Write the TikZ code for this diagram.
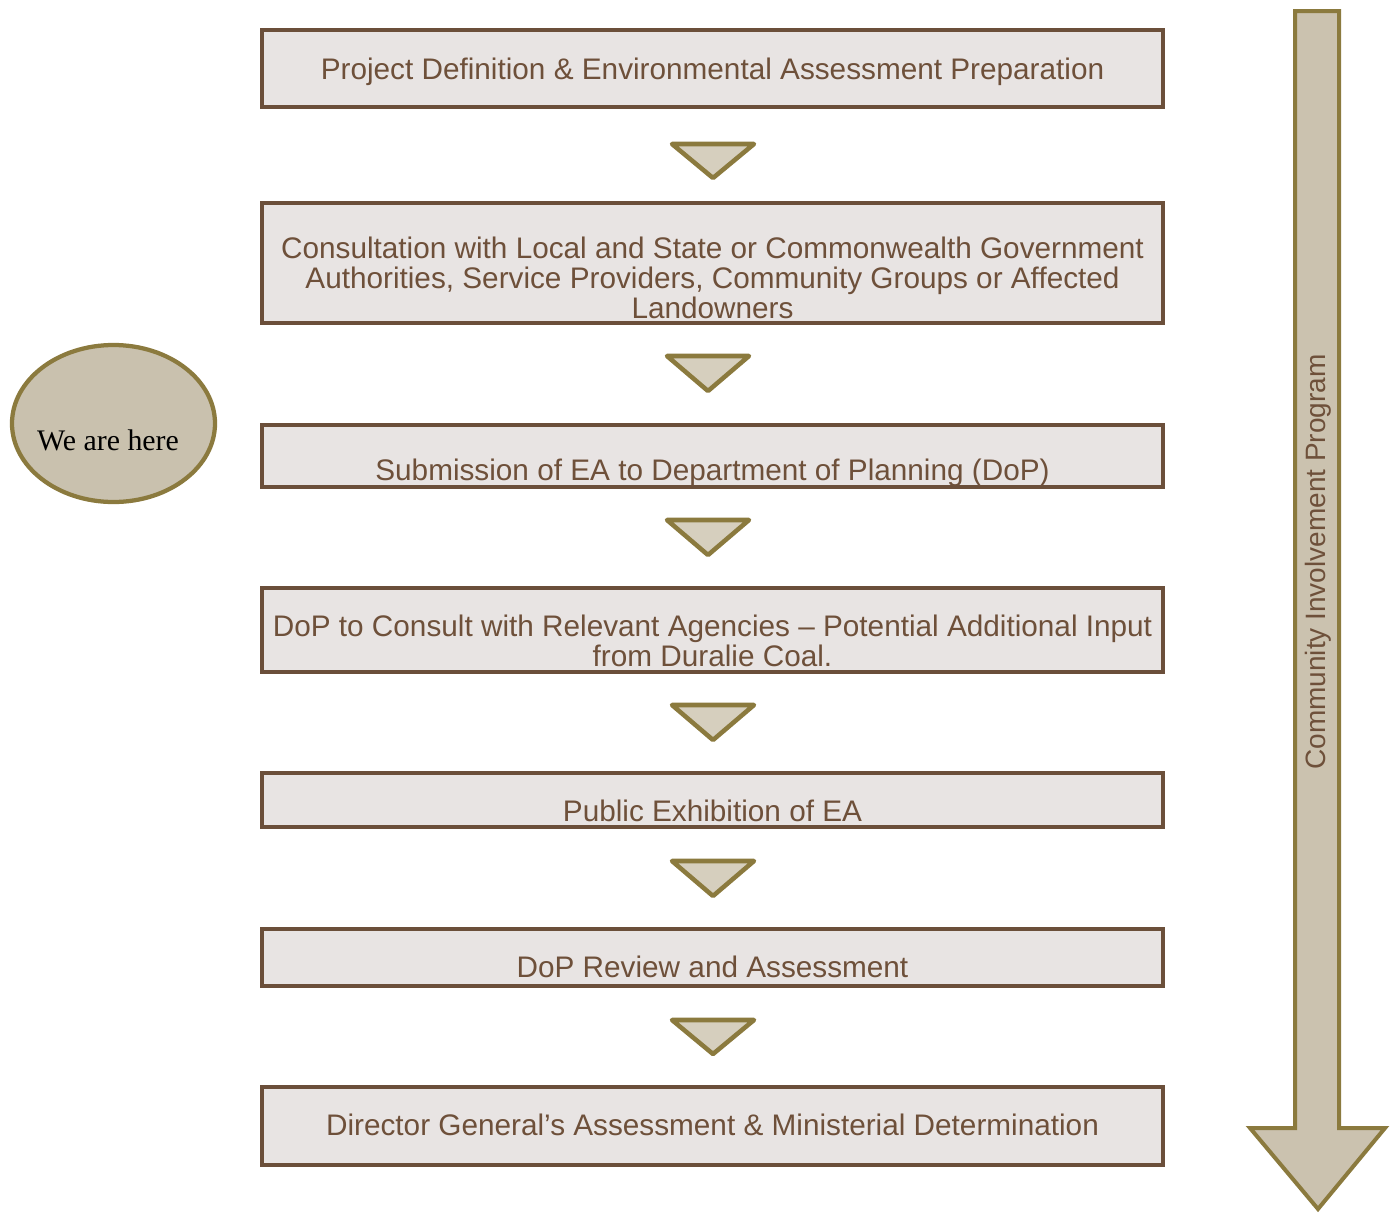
\documentclass[tikz,border=0pt]{standalone}
\usepackage{fontspec}
\setmainfont{Liberation Sans}
\newfontfamily\timesfont{Liberation Serif}
\usetikzlibrary{shapes.geometric}
\definecolor{boxborder}{RGB}{107,79,58}
\definecolor{boxfill}{RGB}{232,228,227}
\definecolor{txtbrown}{RGB}{110,80,58}
\definecolor{olive}{RGB}{139,122,62}
\definecolor{trifill}{RGB}{214,207,190}
\definecolor{ellfill}{RGB}{201,193,174}
\definecolor{arrfill}{RGB}{203,194,175}
\tikzset{
  stagebox/.style={draw=boxborder, fill=boxfill, line width=3.4pt, minimum width={901*0.75pt}, inner sep=0pt},
  stagetext/.style={text=txtbrown, font=\fontsize{22.3}{22.5}\selectfont, align=center, inner sep=0pt},
  downtri/.style={draw=olive, fill=trifill, line width=3.4pt, line join=round},
}
\begin{document}
\begin{tikzpicture}[x=0.75pt,y=-0.75pt]
\useasboundingbox (0,0) rectangle (1393,1214);
% big side arrow
\draw[draw=olive, fill=arrfill, line width=3pt, line join=miter]
  (1295,11) -- (1339,11) -- (1339,1128) -- (1385,1128) -- (1318,1209) -- (1250,1128) -- (1295,1128) -- cycle;
\node[text=txtbrown, font=\fontsize{21}{22}\selectfont, rotate=90, inner sep=0pt] (cip) at (1318,562) {Community Involvement Program};
% ellipse
\node[ellipse, draw=olive, fill=ellfill, line width=3.2pt, minimum width={203*0.75pt}, minimum height={157*0.75pt}, inner sep=0pt] (here) at (113.5,423.5) {};
\node[font=\timesfont\fontsize{22.4}{24}\selectfont, text=black, inner sep=0pt] (heretext) at (108,440) {We are here};
% boxes
\node[stagebox, minimum height={77*0.75pt}] (b1) at (712.5,68.5) {};
\node[stagebox, minimum height={120*0.75pt}] (b2) at (712.5,263) {};
\node[stagebox, minimum height={62*0.75pt}] (b3) at (712.5,456) {};
\node[stagebox, minimum height={84*0.75pt}] (b4) at (712.5,630) {};
\node[stagebox, minimum height={54*0.75pt}] (b5) at (712.5,800) {};
\node[stagebox, minimum height={57*0.75pt}] (b6) at (712.5,957.5) {};
\node[stagebox, minimum height={78*0.75pt}] (b7) at (712.5,1126) {};
% texts
\node[stagetext, anchor=base] (t1) at (712.5,79) {Project Definition \& Environmental Assessment Preparation};
\node[stagetext] (t2) at (712.5,278) {Consultation with Local and State or Commonwealth Government\\Authorities, Service Providers, Community Groups or Affected\\Landowners};
\node[stagetext, anchor=base] (t3) at (712.5,480) {Submission of EA to Department of Planning (DoP)};
\node[stagetext] (t4) at (712.5,641) {DoP to Consult with Relevant Agencies -- Potential Additional Input\\from Duralie Coal.};
\node[stagetext, anchor=base] (t5) at (712.5,821) {Public Exhibition of EA};
\node[stagetext, anchor=base] (t6) at (712.5,977) {DoP Review and Assessment};
\node[stagetext, anchor=base] (t7) at (712.5,1135) {Director General’s Assessment \& Ministerial Determination};
% triangles
\draw[downtri] (672,144) -- (754,144) -- (713,178) -- cycle;
\draw[downtri] (667,356) -- (749,356) -- (708,391) -- cycle;
\draw[downtri] (667,520) -- (749,520) -- (708,555) -- cycle;
\draw[downtri] (672,705) -- (754,705) -- (713,740) -- cycle;
\draw[downtri] (672,861) -- (754,861) -- (713,896) -- cycle;
\draw[downtri] (672,1020) -- (754,1020) -- (713,1054) -- cycle;
\end{tikzpicture}
\end{document}
